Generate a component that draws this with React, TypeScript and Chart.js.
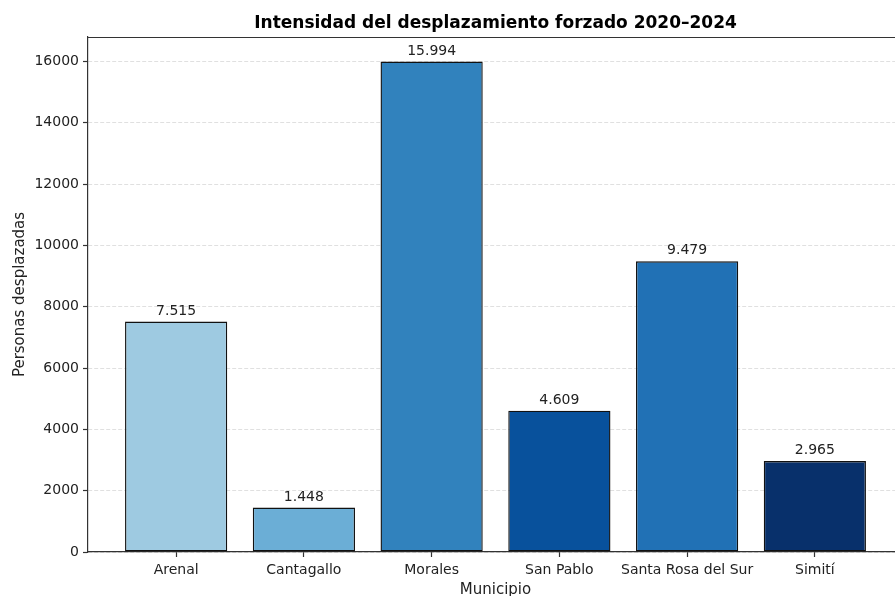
import React, { useEffect, useRef } from "react";
import { Chart, registerables } from "chart.js";

Chart.register(...registerables);

const MUNICIPIOS = ["Arenal", "Cantagallo", "Morales", "San Pablo", "Santa Rosa del Sur", "Simití"];
const DESPLAZADOS = [7515, 1448, 15994, 4609, 9479, 2965];
const VALUE_LABELS = ["7.515", "1.448", "15.994", "4.609", "9.479", "2.965"];
const BAR_COLORS = ["#9ecae1", "#6baed6", "#3182bd", "#08519c", "#2171b5", "#08306b"];
const Y_TICKS = [0, 2000, 4000, 6000, 8000, 10000, 12000, 14000, 16000];

const TITLE = "Intensidad del desplazamiento forzado 2020–2024";
const X_TITLE = "Municipio";
const Y_TITLE = "Personas desplazadas";

const FONT = "'DejaVu Sans', sans-serif";
const SPINE = "#333";
const TEXT = "#222";

const overlay = {
  id: "overlay",
  afterDraw(chart: any) {
    const { ctx, chartArea } = chart;
    const xs = chart.scales.x;
    const ys = chart.scales.y;
    ctx.save();
    ctx.setLineDash([]);
    // top spine
    ctx.strokeStyle = SPINE;
    ctx.lineWidth = 1.2;
    ctx.beginPath();
    ctx.moveTo(chartArea.left, chartArea.top + 0.5);
    ctx.lineTo(chartArea.right, chartArea.top + 0.5);
    ctx.stroke();
    // title
    const cx = (chartArea.left + chartArea.right) / 2;
    ctx.fillStyle = "#000";
    ctx.font = `bold 17px ${FONT}`;
    ctx.textAlign = "center";
    ctx.textBaseline = "alphabetic";
    ctx.fillText(TITLE, cx, 28);
    // x title
    ctx.fillStyle = TEXT;
    ctx.font = `15px ${FONT}`;
    ctx.fillText(X_TITLE, cx, 594);
    // y title
    ctx.save();
    ctx.translate(24, (chartArea.top + chartArea.bottom) / 2);
    ctx.rotate(-Math.PI / 2);
    ctx.textAlign = "center";
    ctx.fillText(Y_TITLE, 0, 0);
    ctx.restore();
    // value labels
    ctx.font = `14px ${FONT}`;
    ctx.fillStyle = TEXT;
    DESPLAZADOS.forEach((v, i) => {
      const px = xs.getPixelForValue(i);
      const py = ys.getPixelForValue(v);
      ctx.fillText(VALUE_LABELS[i], px, py - 7);
    });
    ctx.restore();
  },
};

export default function App() {
  const ref = useRef<HTMLCanvasElement | null>(null);
  useEffect(() => {
    if (!ref.current) return;
    const chart = new Chart(ref.current, {
      type: "bar",
      data: {
        datasets: [
          {
            data: DESPLAZADOS.map((v, i) => ({ x: i, y: v })),
            backgroundColor: BAR_COLORS,
            borderColor: "#111",
            borderWidth: 1.4,
            borderSkipped: false,
            barPercentage: 1,
            categoryPercentage: 0.8,
          },
        ],
      },
      options: {
        animation: false,
        responsive: false,
        devicePixelRatio: 1,
        layout: { padding: { left: 0, top: 37, right: 17, bottom: 0 } },
        plugins: { legend: { display: false }, title: { display: false }, tooltip: { enabled: false } },
        scales: {
          x: {
            type: "linear",
            min: -0.69,
            max: 5.69,
            offset: false,
            afterBuildTicks: (scale: any) => {
              scale.ticks = MUNICIPIOS.map((_, i) => ({ value: i }));
            },
            afterFit: (scale: any) => {
              scale.height = 44;
            },
            ticks: {
              callback: (value: any) => MUNICIPIOS[Math.round(Number(value))] ?? "",
              font: { family: FONT, size: 14 },
              color: TEXT,
              padding: 5,
              maxRotation: 0,
              autoSkip: false,
            },
            grid: {
              offset: false,
              drawOnChartArea: false,
              drawTicks: true,
              tickLength: 5,
              tickColor: SPINE,
              tickWidth: 1.2,
            },
            border: { display: true, color: SPINE, width: 1.2 },
          },
          y: {
            min: 0,
            max: 16794,
            afterBuildTicks: (scale: any) => {
              scale.ticks = Y_TICKS.map((v) => ({ value: v }));
            },
            afterFit: (scale: any) => {
              scale.width = 88;
            },
            ticks: {
              font: { family: FONT, size: 14 },
              color: TEXT,
              padding: 4,
              callback: (value: any) => String(value),
            },
            grid: {
              color: "rgba(0,0,0,0.12)",
              lineWidth: 1,
              tickBorderDash: [],
              tickLength: 5,
              tickColor: SPINE,
              tickWidth: 1.2,
            },
            border: { display: true, color: SPINE, width: 1.2, dash: [4, 2] },
          },
        },
      },
      plugins: [overlay],
    } as any);
    return () => chart.destroy();
  }, []);
  return (
    <div style={{ position: "fixed", left: 0, top: 0, width: 895, height: 596, overflow: "hidden", background: "#fff" }}>
      <canvas ref={ref} width={920} height={596} style={{ width: 920, height: 596, display: "block" }} />
    </div>
  );
}
